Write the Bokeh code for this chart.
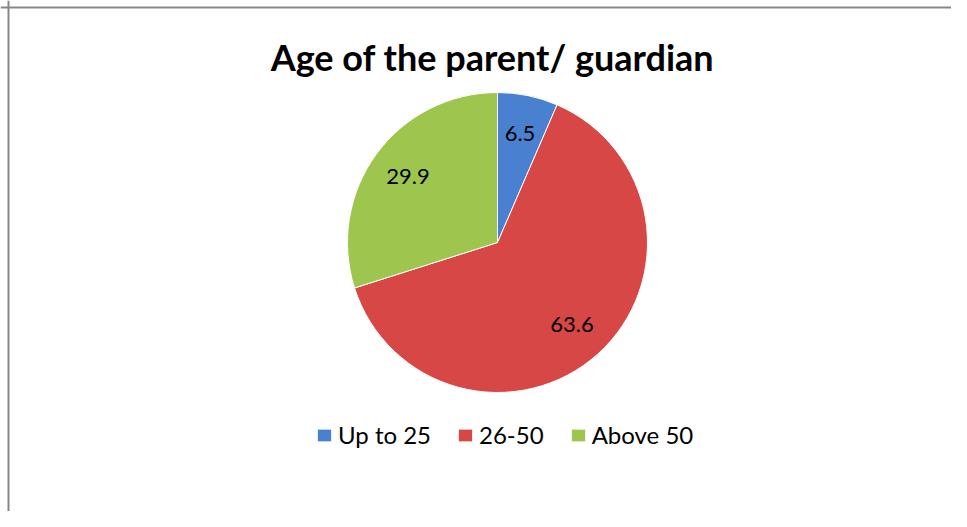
import numpy as np
from bokeh.plotting import figure
from bokeh.models import Range1d, Span, Legend, LegendItem, ColumnDataSource, Label
from bokeh.embed import file_html
from bokeh.resources import INLINE
from bokeh.core.properties import value

# ---- data ----
categories = ["Up to 25", "26-50", "Above 50"]
values = [6.5, 63.6, 29.9]
colors = ["#4A80D0", "#D64745", "#9EC54E"]
title_text = "Age of the parent/ guardian"

# ---- layout ----
W, H = 951, 511
FONT = "Lato"
p = figure(width=W, height=H, output_backend="svg", toolbar_location=None,
           x_range=Range1d(0, W), y_range=Range1d(0, H), min_border=0,
           outline_line_color=None)
p.axis.visible = False
p.grid.visible = False
p.background_fill_color = "white"
p.border_fill_color = "white"

# frame (only left/top visible in reference)
p.add_layout(Span(location=8, dimension="height", line_color="#878787", line_width=2))
p.add_layout(Span(location=H - 7, dimension="width", line_color="#878787", line_width=2))

vals = np.array(values, dtype=float)
fracs = vals / vals.sum()
ends_cum = np.cumsum(fracs)
starts_cum = ends_cum - fracs
start_angle = np.pi / 2 - 2 * np.pi * starts_cum
end_angle = np.pi / 2 - 2 * np.pi * ends_cum
cx, cy, R = 497, H - 242, 150
mid = (start_angle + end_angle) / 2

src = ColumnDataSource(dict(
    cat=categories, val=values, color=colors,
    start=start_angle, end=end_angle,
    lx=cx + 0.74 * R * np.cos(mid), ly=cy + 0.74 * R * np.sin(mid),
    txt=[f"{v:.1f}" for v in values],
    x=[cx] * len(values), y=[cy] * len(values),
))

wr = p.wedge(x="x", y="y", radius=R, start_angle="start", end_angle="end",
             direction="clock", fill_color="color", line_color="white",
             line_width=1, source=src)

p.text(x="lx", y="ly", text="txt", source=src, text_align="center",
       text_baseline="middle", text_font=value(FONT), text_font_size="22px",
       text_color="black")

p.add_layout(Label(x=492, y=H - 56, text=title_text, text_align="center",
                   text_baseline="middle", text_font=FONT, text_font_size="36px",
                   text_font_style="bold", text_color="black"))

legend = Legend(items=[LegendItem(label=c, renderers=[wr], index=i)
                       for i, c in enumerate(categories)],
                orientation="horizontal", location=(315, 62),
                glyph_width=18, glyph_height=16, label_standoff=5, spacing=25,
                padding=0, margin=0, border_line_color=None,
                background_fill_alpha=0, label_text_font=FONT,
                label_text_font_size="24px", label_text_color="black")
p.add_layout(legend)

open("out.html", "w").write(file_html(p, INLINE))
